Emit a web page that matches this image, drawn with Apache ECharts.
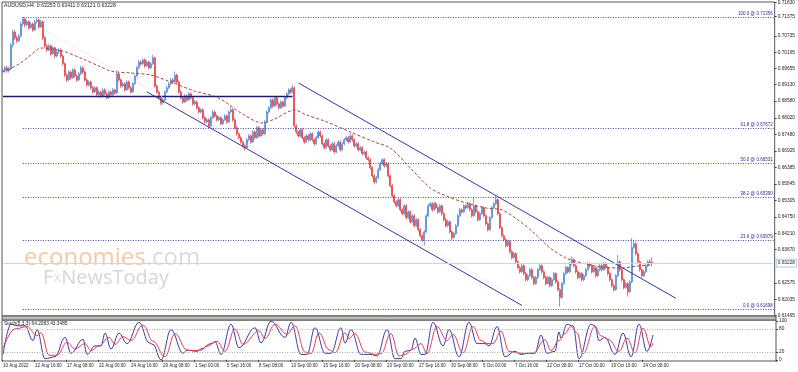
<!DOCTYPE html>
<html><head><meta charset="utf-8">
<script src="https://cdn.jsdelivr.net/npm/echarts@6/dist/echarts.min.js"></script>
<style>html,body{margin:0;padding:0;background:#fff}#c{width:798px;height:372px}</style>
</head><body><div id="c"></div>
<script>
const dateLabels = ['10 Aug 2022','12 Aug 16:00','17 Aug 08:00','22 Aug 00:00','24 Aug 16:00','29 Aug 08:00','1 Sep 00:00','5 Sep 16:00','8 Sep 08:00','13 Sep 00:00','15 Sep 16:00','20 Sep 08:00','23 Sep 00:00','27 Sep 16:00','30 Sep 08:00','5 Oct 00:00','7 Oct 16:00','12 Oct 08:00','17 Oct 00:00','19 Oct 16:00','24 Oct 08:00'];
const priceTicks = [0.71830,0.71375,0.70735,0.70195,0.69655,0.69130,0.68580,0.68020,0.67480,0.66925,0.66385,0.65845,0.65305,0.64750,0.64210,0.63670,0.62575,0.62035,0.61495];
const stochTicks = [0,20,80,100];
// H4 candles: [open, close, low, high]
const candles = [
[0.6955,0.6961,0.6948,0.6968],[0.6961,0.6968,0.6954,0.6975],[0.6968,0.6958,0.6951,0.6974],[0.6958,0.6964,0.6952,0.6971],[0.6964,0.7043,0.6960,0.7050],
[0.7043,0.7086,0.7035,0.7095],[0.7086,0.7067,0.7060,0.7093],[0.7067,0.7057,0.7050,0.7075],[0.7057,0.7073,0.7052,0.7080],[0.7073,0.7113,0.7068,0.7120],
[0.7113,0.7129,0.7106,0.7136],[0.7129,0.7110,0.7102,0.7134],[0.7110,0.7120,0.7104,0.7127],[0.7120,0.7100,0.7094,0.7125],[0.7100,0.7113,0.7096,0.7119],
[0.7113,0.7093,0.7087,0.7118],[0.7093,0.7120,0.7089,0.7126],[0.7120,0.7126,0.7114,0.7132],[0.7126,0.7103,0.7097,0.7130],[0.7103,0.7120,0.7099,0.7127],
[0.7120,0.7067,0.7060,0.7124],[0.7067,0.7040,0.7033,0.7072],[0.7040,0.7027,0.7020,0.7046],[0.7027,0.7040,0.7022,0.7047],[0.7040,0.7014,0.7008,0.7045],
[0.7014,0.7034,0.7010,0.7040],[0.7034,0.7007,0.7000,0.7038],[0.7007,0.7020,0.7002,0.7027],[0.7020,0.7027,0.7014,0.7034],[0.7027,0.7007,0.7001,0.7032],
[0.7007,0.6981,0.6975,0.7012],[0.6981,0.6944,0.6937,0.6986],[0.6944,0.6928,0.6921,0.6950],[0.6928,0.6954,0.6924,0.6960],[0.6954,0.6935,0.6929,0.6959],
[0.6935,0.6961,0.6931,0.6967],[0.6961,0.6941,0.6935,0.6966],[0.6941,0.6928,0.6921,0.6946],[0.6928,0.6948,0.6924,0.6954],[0.6948,0.6968,0.6943,0.6975],
[0.6968,0.6954,0.6948,0.6973],[0.6954,0.6928,0.6922,0.6959],[0.6928,0.6911,0.6905,0.6933],[0.6911,0.6921,0.6906,0.6927],[0.6921,0.6902,0.6896,0.6926],
[0.6902,0.6888,0.6882,0.6907],[0.6888,0.6902,0.6884,0.6908],[0.6902,0.6879,0.6873,0.6906],[0.6879,0.6888,0.6874,0.6894],[0.6888,0.6875,0.6869,0.6893],
[0.6875,0.6895,0.6871,0.6901],[0.6895,0.6882,0.6876,0.6900],[0.6882,0.6869,0.6863,0.6887],[0.6869,0.6888,0.6865,0.6894],[0.6888,0.6879,0.6873,0.6893],
[0.6879,0.6895,0.6875,0.6901],[0.6895,0.6885,0.6879,0.6899],[0.6885,0.6948,0.6881,0.6960],[0.6948,0.6928,0.6922,0.6953],[0.6928,0.6908,0.6902,0.6933],
[0.6908,0.6915,0.6903,0.6921],[0.6915,0.6895,0.6889,0.6920],[0.6895,0.6921,0.6891,0.6927],[0.6921,0.6902,0.6896,0.6926],[0.6902,0.6888,0.6882,0.6907],
[0.6888,0.6915,0.6884,0.6921],[0.6915,0.6941,0.6911,0.6947],[0.6941,0.6968,0.6937,0.6974],[0.6968,0.6987,0.6963,0.6994],[0.6987,0.6981,0.6975,0.6993],
[0.6981,0.6994,0.6976,0.7000],[0.6994,0.6974,0.6968,0.6999],[0.6974,0.6987,0.6970,0.6993],[0.6987,0.6968,0.6962,0.6992],[0.6968,0.6981,0.6964,0.6987],
[0.6981,0.7001,0.6977,0.7011],[0.7001,0.6908,0.6902,0.7005],[0.6908,0.6888,0.6882,0.6913],[0.6888,0.6869,0.6863,0.6893],[0.6869,0.6852,0.6845,0.6874],
[0.6852,0.6862,0.6846,0.6868],[0.6862,0.6888,0.6858,0.6894],[0.6888,0.6902,0.6884,0.6908],[0.6902,0.6915,0.6897,0.6921],[0.6915,0.6928,0.6910,0.6934],
[0.6928,0.6921,0.6915,0.6934],[0.6921,0.6944,0.6916,0.6956],[0.6944,0.6921,0.6915,0.6949],[0.6921,0.6888,0.6882,0.6926],[0.6888,0.6869,0.6863,0.6893],
[0.6869,0.6855,0.6849,0.6874],[0.6855,0.6875,0.6851,0.6881],[0.6875,0.6862,0.6856,0.6880],[0.6862,0.6882,0.6858,0.6888],[0.6882,0.6869,0.6863,0.6887],
[0.6869,0.6849,0.6843,0.6874],[0.6849,0.6855,0.6843,0.6861],[0.6855,0.6836,0.6830,0.6860],[0.6836,0.6822,0.6816,0.6841],[0.6822,0.6829,0.6817,0.6835],
[0.6829,0.6803,0.6797,0.6834],[0.6803,0.6789,0.6783,0.6808],[0.6789,0.6796,0.6784,0.6802],[0.6796,0.6776,0.6770,0.6801],[0.6776,0.6803,0.6772,0.6809],
[0.6803,0.6822,0.6799,0.6830],[0.6822,0.6809,0.6803,0.6827],[0.6809,0.6796,0.6790,0.6814],[0.6796,0.6803,0.6791,0.6809],[0.6803,0.6783,0.6777,0.6808],
[0.6783,0.6796,0.6779,0.6802],[0.6796,0.6809,0.6792,0.6815],[0.6809,0.6789,0.6783,0.6814],[0.6789,0.6822,0.6785,0.6828],[0.6822,0.6829,0.6817,0.6839],
[0.6829,0.6796,0.6790,0.6834],[0.6796,0.6770,0.6764,0.6801],[0.6770,0.6750,0.6744,0.6775],[0.6750,0.6737,0.6731,0.6755],[0.6737,0.6723,0.6717,0.6742],
[0.6723,0.6710,0.6704,0.6728],[0.6710,0.6704,0.6694,0.6716],[0.6704,0.6730,0.6700,0.6736],[0.6730,0.6743,0.6725,0.6749],[0.6743,0.6723,0.6717,0.6748],
[0.6723,0.6756,0.6719,0.6762],[0.6756,0.6737,0.6731,0.6761],[0.6737,0.6770,0.6733,0.6776],[0.6770,0.6743,0.6737,0.6775],[0.6743,0.6763,0.6739,0.6769],
[0.6763,0.6750,0.6744,0.6768],[0.6750,0.6789,0.6746,0.6795],[0.6789,0.6822,0.6785,0.6828],[0.6822,0.6836,0.6817,0.6842],[0.6836,0.6862,0.6831,0.6868],
[0.6862,0.6842,0.6836,0.6867],[0.6842,0.6869,0.6838,0.6875],[0.6869,0.6849,0.6843,0.6874],[0.6849,0.6836,0.6830,0.6854],[0.6836,0.6855,0.6832,0.6861],
[0.6855,0.6842,0.6836,0.6860],[0.6842,0.6869,0.6838,0.6875],[0.6869,0.6882,0.6864,0.6888],[0.6882,0.6895,0.6877,0.6901],[0.6895,0.6888,0.6882,0.6900],
[0.6888,0.6902,0.6883,0.6911],[0.6902,0.6776,0.6770,0.6906],[0.6776,0.6756,0.6750,0.6781],[0.6756,0.6743,0.6737,0.6761],[0.6743,0.6763,0.6739,0.6769],
[0.6763,0.6737,0.6731,0.6768],[0.6737,0.6723,0.6717,0.6742],[0.6723,0.6743,0.6719,0.6749],[0.6743,0.6730,0.6724,0.6748],[0.6730,0.6750,0.6726,0.6756],
[0.6750,0.6730,0.6724,0.6755],[0.6730,0.6717,0.6711,0.6735],[0.6717,0.6737,0.6713,0.6743],[0.6737,0.6756,0.6733,0.6762],[0.6756,0.6743,0.6737,0.6761],
[0.6743,0.6717,0.6711,0.6748],[0.6717,0.6704,0.6698,0.6722],[0.6704,0.6730,0.6700,0.6736],[0.6730,0.6710,0.6704,0.6735],[0.6710,0.6697,0.6691,0.6715],
[0.6697,0.6717,0.6693,0.6723],[0.6717,0.6690,0.6684,0.6722],[0.6690,0.6710,0.6686,0.6716],[0.6710,0.6723,0.6706,0.6729],[0.6723,0.6697,0.6691,0.6728],
[0.6697,0.6717,0.6693,0.6723],[0.6717,0.6730,0.6712,0.6736],[0.6730,0.6737,0.6725,0.6743],[0.6737,0.6723,0.6717,0.6742],[0.6723,0.6743,0.6719,0.6753],
[0.6743,0.6730,0.6724,0.6748],[0.6730,0.6710,0.6704,0.6735],[0.6710,0.6717,0.6705,0.6723],[0.6717,0.6697,0.6691,0.6722],[0.6697,0.6704,0.6692,0.6710],
[0.6704,0.6684,0.6678,0.6709],[0.6684,0.6690,0.6679,0.6696],[0.6690,0.6671,0.6665,0.6695],[0.6671,0.6664,0.6658,0.6676],[0.6664,0.6638,0.6632,0.6669],
[0.6638,0.6611,0.6605,0.6643],[0.6611,0.6591,0.6583,0.6616],[0.6591,0.6605,0.6586,0.6611],[0.6605,0.6631,0.6600,0.6637],[0.6631,0.6651,0.6626,0.6657],
[0.6651,0.6664,0.6646,0.6670],[0.6664,0.6644,0.6638,0.6669],[0.6644,0.6651,0.6639,0.6657],[0.6651,0.6611,0.6605,0.6656],[0.6611,0.6578,0.6572,0.6616],
[0.6578,0.6545,0.6539,0.6583],[0.6545,0.6525,0.6519,0.6550],[0.6525,0.6512,0.6506,0.6530],[0.6512,0.6532,0.6508,0.6538],[0.6532,0.6499,0.6493,0.6537],
[0.6499,0.6486,0.6480,0.6504],[0.6486,0.6512,0.6482,0.6518],[0.6512,0.6473,0.6467,0.6517],[0.6473,0.6492,0.6469,0.6498],[0.6492,0.6459,0.6453,0.6497],
[0.6459,0.6479,0.6455,0.6485],[0.6479,0.6446,0.6440,0.6484],[0.6446,0.6466,0.6442,0.6472],[0.6466,0.6433,0.6427,0.6471],[0.6433,0.6413,0.6407,0.6438],
[0.6413,0.6400,0.6392,0.6418],[0.6400,0.6426,0.6380,0.6432],[0.6426,0.6479,0.6422,0.6485],[0.6479,0.6512,0.6475,0.6518],[0.6512,0.6519,0.6507,0.6525],
[0.6519,0.6499,0.6493,0.6524],[0.6499,0.6519,0.6495,0.6525],[0.6519,0.6506,0.6500,0.6524],[0.6506,0.6492,0.6486,0.6511],[0.6492,0.6512,0.6488,0.6518],
[0.6512,0.6486,0.6480,0.6517],[0.6486,0.6466,0.6460,0.6491],[0.6466,0.6446,0.6440,0.6471],[0.6446,0.6459,0.6441,0.6465],[0.6459,0.6426,0.6420,0.6464],
[0.6426,0.6407,0.6399,0.6431],[0.6407,0.6420,0.6402,0.6426],[0.6420,0.6446,0.6416,0.6452],[0.6446,0.6479,0.6442,0.6485],[0.6479,0.6499,0.6475,0.6505],
[0.6499,0.6492,0.6486,0.6504],[0.6492,0.6512,0.6488,0.6518],[0.6512,0.6506,0.6500,0.6517],[0.6506,0.6519,0.6502,0.6525],[0.6519,0.6499,0.6493,0.6524],
[0.6499,0.6479,0.6473,0.6504],[0.6479,0.6512,0.6475,0.6539],[0.6512,0.6492,0.6486,0.6517],[0.6492,0.6466,0.6460,0.6497],[0.6466,0.6486,0.6462,0.6492],
[0.6486,0.6506,0.6482,0.6512],[0.6506,0.6479,0.6473,0.6511],[0.6479,0.6453,0.6447,0.6484],[0.6453,0.6433,0.6427,0.6458],[0.6433,0.6473,0.6429,0.6479],
[0.6473,0.6506,0.6469,0.6512],[0.6506,0.6519,0.6501,0.6525],[0.6519,0.6532,0.6514,0.6545],[0.6532,0.6486,0.6480,0.6537],[0.6486,0.6440,0.6434,0.6491],
[0.6440,0.6413,0.6407,0.6445],[0.6413,0.6400,0.6394,0.6418],[0.6400,0.6380,0.6374,0.6405],[0.6380,0.6394,0.6375,0.6400],[0.6394,0.6360,0.6354,0.6399],
[0.6360,0.6341,0.6335,0.6365],[0.6341,0.6354,0.6336,0.6360],[0.6354,0.6327,0.6321,0.6359],[0.6327,0.6308,0.6302,0.6332],[0.6308,0.6294,0.6288,0.6313],
[0.6294,0.6314,0.6290,0.6320],[0.6314,0.6288,0.6282,0.6319],[0.6288,0.6268,0.6262,0.6293],[0.6268,0.6281,0.6263,0.6287],[0.6281,0.6301,0.6277,0.6307],
[0.6301,0.6275,0.6269,0.6306],[0.6275,0.6255,0.6249,0.6280],[0.6255,0.6275,0.6251,0.6281],[0.6275,0.6301,0.6271,0.6307],[0.6301,0.6314,0.6296,0.6320],
[0.6314,0.6294,0.6288,0.6319],[0.6294,0.6275,0.6269,0.6299],[0.6275,0.6255,0.6249,0.6280],[0.6255,0.6275,0.6251,0.6281],[0.6275,0.6248,0.6242,0.6280],
[0.6248,0.6268,0.6244,0.6274],[0.6268,0.6288,0.6264,0.6294],[0.6288,0.6261,0.6255,0.6293],[0.6261,0.6235,0.6229,0.6266],[0.6235,0.6209,0.6179,0.6240],
[0.6209,0.6255,0.6205,0.6261],[0.6255,0.6288,0.6251,0.6294],[0.6288,0.6308,0.6284,0.6314],[0.6308,0.6294,0.6288,0.6313],[0.6294,0.6321,0.6290,0.6327],
[0.6321,0.6334,0.6316,0.6345],[0.6334,0.6314,0.6308,0.6339],[0.6314,0.6294,0.6288,0.6319],[0.6294,0.6275,0.6269,0.6299],[0.6275,0.6288,0.6270,0.6294],
[0.6288,0.6268,0.6262,0.6293],[0.6268,0.6281,0.6263,0.6287],[0.6281,0.6301,0.6277,0.6307],[0.6301,0.6321,0.6297,0.6327],[0.6321,0.6314,0.6308,0.6326],
[0.6314,0.6294,0.6288,0.6319],[0.6294,0.6308,0.6289,0.6314],[0.6308,0.6281,0.6275,0.6313],[0.6281,0.6301,0.6277,0.6307],[0.6301,0.6314,0.6296,0.6320],
[0.6314,0.6301,0.6295,0.6319],[0.6301,0.6321,0.6297,0.6327],[0.6321,0.6308,0.6302,0.6326],[0.6308,0.6288,0.6282,0.6313],[0.6288,0.6268,0.6262,0.6293],
[0.6268,0.6248,0.6242,0.6273],[0.6248,0.6235,0.6229,0.6253],[0.6235,0.6281,0.6231,0.6287],[0.6281,0.6327,0.6277,0.6350],[0.6327,0.6301,0.6295,0.6332],
[0.6301,0.6268,0.6262,0.6306],[0.6268,0.6242,0.6236,0.6273],[0.6242,0.6255,0.6237,0.6261],[0.6255,0.6228,0.6212,0.6260],[0.6228,0.6261,0.6224,0.6267],
[0.6261,0.6374,0.6257,0.6406],[0.6374,0.6387,0.6369,0.6400],[0.6387,0.6354,0.6348,0.6392],[0.6354,0.6327,0.6321,0.6359],[0.6327,0.6301,0.6295,0.6332],
[0.6301,0.6281,0.6275,0.6306],[0.6281,0.6294,0.6276,0.6300],[0.6294,0.6314,0.6290,0.6320],[0.6314,0.6327,0.6309,0.6333],[0.6327,0.6325,0.6318,0.6335],
[0.63253,0.63228,0.63121,0.63411]
];
// moving average: [bar index, price]
const maPoints = [[0,0.69540],[8,0.69805],[14,0.70102],[19,0.70333],[24,0.70300],[30,0.70234],[40,0.69970],[48,0.69739],[54,0.69573],[64,0.69507],[74,0.69441],[84,0.69210],[96,0.68913],[108,0.68681],[120,0.68153],[130,0.67856],[136,0.67988],[146,0.68285],[152,0.68120],[161,0.67922],[174,0.67558],[186,0.67228],[194,0.67030],[204,0.66369],[214,0.65708],[222,0.65444],[232,0.65213],[242,0.65048],[250,0.64981],[258,0.64651],[266,0.64222],[274,0.63726],[282,0.63396],[290,0.63231],[300,0.63098],[310,0.63065],[318,0.63131],[325,0.63165]];
// Stochastic %K and %D: [bar index, value]
const stochK = [[0,14],[4,92],[7,88],[11,88],[15,50],[17,78],[21,3],[26,8],[31,58],[34,17],[40,53],[42,14],[46,36],[49,36],[51,69],[54,28],[58,69],[62,42],[68,97],[73,44],[75,40],[79,0],[84,78],[90,17],[92,25],[97,22],[99,28],[104,42],[106,47],[109,14],[114,92],[118,31],[126,83],[129,44],[134,100],[141,58],[144,97],[149,14],[152,14],[156,83],[161,17],[164,17],[169,83],[171,43],[174,78],[179,14],[184,14],[187,10],[192,78],[196,3],[199,3],[201,22],[204,25],[206,56],[209,14],[211,14],[215,97],[220,36],[223,78],[228,8],[233,97],[237,42],[241,42],[243,36],[247,86],[251,8],[256,22],[259,14],[262,17],[266,17],[269,64],[272,17],[276,22],[278,72],[279,56],[282,92],[285,88],[288,3],[294,92],[296,88],[298,50],[301,58],[306,14],[310,69],[314,8],[318,92],[322,22],[325,64.2083]];
const stochD = [[0,30],[6,80],[12,86],[17,62],[19,70],[23,12],[27,12],[32,45],[36,28],[41,42],[44,24],[48,36],[53,58],[56,40],[60,60],[64,50],[70,90],[75,48],[81,8],[86,68],[92,25],[95,24],[99,25],[102,35],[107,48],[111,22],[116,80],[120,40],[128,75],[131,55],[136,92],[142,66],[146,88],[151,20],[154,16],[158,70],[163,26],[166,18],[171,70],[173,55],[176,68],[181,20],[186,14],[189,16],[194,68],[198,10],[201,14],[205,28],[209,42],[212,16],[217,86],[222,50],[225,66],[230,18],[235,86],[239,50],[242,42],[245,42],[249,74],[253,22],[257,18],[261,16],[265,17],[271,52],[274,24],[278,50],[281,68],[284,86],[287,70],[290,16],[296,86],[299,62],[303,52],[308,22],[312,56],[316,18],[320,82],[324,34],[325,43.3485]];
const fibLevels = ['100.0','61.8','50.0','38.2','23.6','0.0'];
const fibPrices = [0.71356,0.67672,0.66531,0.65390,0.63979,0.61698];
const lastPrice = 0.63228;
const supportLine = {from:0, to:145, price:0.6875};
const upperChannel = [[148,0.69177],[337,0.62066]];
const lowerChannel = [[72,0.68889],[260,0.61826]];
const midChannel = [[19,0.70994],[262,0.61900]];

const SLOTS = 387;
const categories = [];
for (let i = 0; i < SLOTS; i++) categories.push(i % 16 === 0 && dateLabels[i/16] ? dateLabels[i/16] : '');
const FONT = 'Liberation Sans';
const navy = '#2b2b8c';

const chart = echarts.init(document.getElementById('c'), null, {renderer:'canvas'});
const fibLineData = fibPrices.map((p, i) => [
  {coord:[10, p], name: fibLevels[i] + ' @ ' + p.toFixed(5)},
  {coord:[SLOTS-1, p]}
]);
chart.setOption({
  animation:false,
  backgroundColor:'#ffffff',
  grid:[
    {left:2, top:2, width:774, height:314, show:true, borderColor:'#555', borderWidth:1, backgroundColor:'#fff'},
    {left:2, top:320, width:774, height:41, show:true, borderColor:'#555', borderWidth:1, backgroundColor:'#fff'}
  ],
  xAxis:[
    {type:'category', gridIndex:0, data:categories, boundaryGap:true, axisLine:{show:false}, axisTick:{show:false}, axisLabel:{show:false}, splitLine:{show:false}},
    {type:'category', gridIndex:1, data:categories, boundaryGap:true, axisLine:{show:false},
     axisTick:{show:true, length:2, interval:(i)=>i%16===0 && i/16<dateLabels.length, lineStyle:{color:'#444'}},
     axisLabel:{show:true, interval:(i)=>i%16===0 && i/16<dateLabels.length, fontSize:4.5, color:'#222', align:'left', margin:2, fontFamily:FONT},
     splitLine:{show:false}}
  ],
  yAxis:[
    {type:'value', gridIndex:0, position:'right', min:0.6148, max:0.71853, splitLine:{show:false}, axisLine:{show:false},
     axisTick:{show:true, length:2, customValues:priceTicks, lineStyle:{color:'#444'}},
     axisLabel:{customValues:priceTicks, formatter:(v)=>v.toFixed(5), fontSize:4.8, color:'#222', margin:3, fontFamily:FONT}},
    {type:'value', gridIndex:1, position:'right', min:-3, max:103, splitLine:{show:false}, axisLine:{show:false},
     axisTick:{show:true, length:2, customValues:stochTicks, lineStyle:{color:'#444'}},
     axisLabel:{customValues:stochTicks, fontSize:4.8, color:'#222', margin:3, fontFamily:FONT}}
  ],
  series:[
    {type:'line', name:'objects', xAxisIndex:0, yAxisIndex:0, data:[], z:1, silent:true,
     markLine:{symbol:['none','none'], silent:true, animation:false,
       label:{show:true, position:'insideEndTop', formatter:'{b}', fontSize:4.5, color:navy, distance:1, fontFamily:FONT},
       lineStyle:{color:'#4848a8', type:[1,1.5], width:1},
       data: fibLineData}},
    {type:'line', name:'lines', xAxisIndex:0, yAxisIndex:0, data:[], z:1, silent:true,
     markLine:{symbol:['none','none'], silent:true, animation:false, label:{show:false},
       data:[
         [{coord:[supportLine.from, supportLine.price], lineStyle:{color:'#1c1c6e', width:1.4, type:'solid'}}, {coord:[supportLine.to, supportLine.price]}],
         [{coord:upperChannel[0], lineStyle:{color:'#3535a0', width:1, type:'solid'}}, {coord:upperChannel[1]}],
         [{coord:lowerChannel[0], lineStyle:{color:'#3535a0', width:1, type:'solid'}}, {coord:lowerChannel[1]}],
         [{coord:midChannel[0], lineStyle:{color:'#e6cdd6', width:1, type:[1,2]}}, {coord:midChannel[1]}],
         [{coord:[0, lastPrice], lineStyle:{color:'#b8dff0', width:1, type:'solid'},
           label:{show:true, position:'end', formatter:lastPrice.toFixed(5), fontSize:4.8, color:'#222', backgroundColor:'#fff', borderColor:'#9cc8dc', borderWidth:0.8, padding:[1,1], distance:3, fontFamily:FONT}},
          {coord:[SLOTS-1, lastPrice]}]
       ]}},
    {type:'candlestick', name:'AUDUSD', xAxisIndex:0, yAxisIndex:0, data:candles, z:3, barWidth:1.5,
     large:false, progressive:0, clip:false,
     itemStyle:{color:'#4f8ad0', color0:'#e43c40', borderColor:'#4f8ad0', borderColor0:'#e43c40', borderColorDoji:'#e43c40', borderWidth:0.7}},
    {type:'line', name:'MA', xAxisIndex:0, yAxisIndex:0, data:maPoints, z:4, symbol:'none', smooth:0.3,
     lineStyle:{color:'#a8473c', width:1, type:[3,2]}},
    {type:'line', name:'%K', xAxisIndex:1, yAxisIndex:1, data:stochK, symbol:'none', smooth:0.4, smoothMonotone:'x', z:3,
     lineStyle:{color:'#3a3aa6', width:1},
     markLine:{symbol:['none','none'], silent:true, label:{show:false}, lineStyle:{color:'#aaaaaa', type:[1,1.5], width:1}, data:[{yAxis:20},{yAxis:80}]}},
    {type:'line', name:'%D', xAxisIndex:1, yAxisIndex:1, data:stochD, symbol:'none', smooth:0.4, smoothMonotone:'x', z:3,
     lineStyle:{color:'#e2405c', width:1}}
  ],
  graphic:[
    {type:'rect', shape:{x:2, y:316, width:774, height:4}, style:{fill:'#bdbdbd', stroke:'#555', lineWidth:1}, z:10},
    {type:'text', left:4, top:3, z:10, style:{text:'AUDUSD,H4  0.63253 0.63411 0.63121 0.63228', fill:'#222', font:'5.2px "Liberation Sans"'}},
    {type:'text', left:4, top:321, z:10, style:{text:'Stoch(5,3,3) 64.2083 43.3485', fill:'#222', font:'4.8px "Liberation Sans"'}},
    {type:'text', left:24, top:246, z:0, silent:true, style:{text:'{a|economies}{b|.com}', rich:{a:{fill:'#f8c8a8', font:'24px "Open Sans"'}, b:{fill:'#dcdcdc', font:'24px "Open Sans"'}}}},
    {type:'text', left:43, top:268, z:0, silent:true, style:{text:'{a|F}{b|x}{a|NewsToday}', rich:{a:{fill:'#d6d6d6', font:'20px "Open Sans"'}, b:{fill:'#e2e2e2', font:'15px "Open Sans"'}}}}
  ]
});
</script></body></html>
